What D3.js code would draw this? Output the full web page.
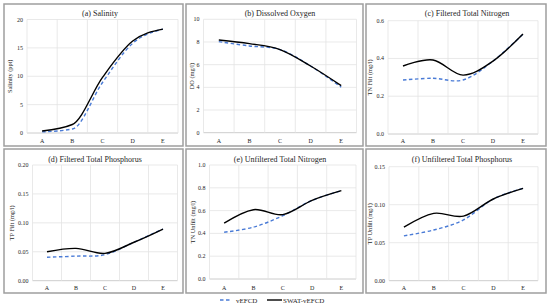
<!DOCTYPE html>
<html><head><meta charset="utf-8">
<script src="https://cdn.jsdelivr.net/npm/d3@7"></script>
<style>
html,body{margin:0;padding:0;background:#fff;}
svg{display:block;}
text{font-family:"Liberation Serif","Times New Roman",serif;fill:#262626;}
</style></head>
<body>
<svg id="chart" width="550" height="307"></svg>
<script>
// ---------- data ----------
const categories = ["A","B","C","D","E"];
const seriesNames = ["vEFCD","SWAT-vEFCD"];
const titles = ["(a) Salinity","(b) Dissolved Oxygen","(c) Filtered Total Nitrogen",
  "(d) Filtered Total Phosphorus","(e) Unfiltered Total Nitrogen","(f) Unfiltered Total Phosphorus"];
const yTitles = ["Salinity (ppt)","DO (mg/l)","TN Filt (mg/l)","TP Filt (mg/l)","TN Unfilt (mg/l)","TP Unfilt (mg/l)"];
const salinityV = [0.2, 0.7, 8.9, 15.8, 18.3];
const salinityS = [0.35, 1.5, 9.8, 16.2, 18.3];
const doV = [8.03, 7.65, 7.33, 5.88, 4.02];
const doS = [8.18, 7.86, 7.33, 5.88, 4.15];
const tnFiltV = [0.286, 0.295, 0.286, 0.386, 0.529];
const tnFiltS = [0.360, 0.392, 0.312, 0.386, 0.529];
const tpFiltV = [0.0405, 0.0425, 0.0450, 0.0665, 0.0893];
const tpFiltS = [0.0501, 0.0559, 0.0473, 0.0665, 0.0893];
const tnUnfV = [0.410, 0.455, 0.555, 0.690, 0.775];
const tnUnfS = [0.490, 0.608, 0.565, 0.690, 0.775];
const tpUnfV = [0.059, 0.0667, 0.0800, 0.1075, 0.1215];
const tpUnfS = [0.0705, 0.0886, 0.0850, 0.1075, 0.1215];
const yTicks = [[0,5,10,15,20],[0,2,4,6,8,10],[0,0.2,0.4,0.6],
  [0,0.05,0.10,0.15,0.20],[0,0.2,0.4,0.6,0.8,1.0],[0,0.05,0.10,0.15]];
const tickFormats = ["d","d",".1f",".2f",".1f",".2f"];
const panelData = [[salinityV,salinityS],[doV,doS],[tnFiltV,tnFiltS],[tpFiltV,tpFiltS],[tnUnfV,tnUnfS],[tpUnfV,tpUnfS]];

// ---------- layout ----------
const boxes = [[4,4,183,146],[186,4,363,146],[366,4,546,146],[4,149,183,293],[186,149,363,293],[366,149,546,293]];
const plots = [[27,178,19.5,133],[203.5,356.5,19.3,132.7],[388,538,20.7,134],
  [32.5,177.5,165,280.7],[209.5,356,165,279],[389,538,166.7,280.7]];
const titlePos = [[100,15.5],[280,16],[467,16],[95,161.5],[280,162],[462,161.5]];
const yTitleX = [10,192,370,12,193,370];
const colors = ["#4a7bd6","#000000"];
const curves = [d3.curveMonotoneX, d3.curveCatmullRom.alpha(0), d3.curveCatmullRom.alpha(0),
  d3.curveCatmullRom.alpha(0), d3.curveCatmullRom.alpha(0), d3.curveCatmullRom.alpha(0)];

const svg = d3.select("#chart");

panelData.forEach((pd,i)=>{
  const b = boxes[i], p = plots[i];
  const g = svg.append("g");
  g.append("rect").attr("x",b[0]).attr("y",b[1]).attr("width",b[2]-b[0]).attr("height",b[3]-b[1])
    .attr("fill","#fff").attr("stroke","#9e9e9e").attr("stroke-width",1.5);
  const x = d3.scaleBand().domain(categories).range([p[0],p[1]]);
  const ticks = yTicks[i];
  const y = d3.scaleLinear().domain([ticks[0],ticks[ticks.length-1]]).range([p[3],p[2]]);
  g.selectAll(".hg").data(ticks).join("line")
    .attr("x1",p[0]).attr("x2",p[1]).attr("y1",d=>y(d)).attr("y2",d=>y(d))
    .attr("stroke",(d,k)=>k===0?"#bfbfbf":"#e3e3e3").attr("stroke-width",0.8);
  const bounds = categories.map(c=>x(c)).concat([x(categories[categories.length-1])+x.bandwidth()]);
  g.selectAll(".vg").data(bounds).join("line")
    .attr("x1",d=>d).attr("x2",d=>d).attr("y1",p[2]).attr("y2",p[3])
    .attr("stroke","#e3e3e3").attr("stroke-width",0.8);
  const fmt = d3.format(tickFormats[i]);
  g.selectAll(".yl").data(ticks).join("text")
    .attr("x",p[0]-4).attr("y",d=>y(d)+2).attr("text-anchor","end")
    .attr("font-size",6).text(d=>fmt(d));
  g.selectAll(".xl").data(categories).join("text")
    .attr("x",d=>x(d)+x.bandwidth()/2).attr("y",b[3]-3).attr("text-anchor","middle")
    .attr("font-size",6).text(d=>d);
  g.append("text").attr("x",titlePos[i][0]).attr("y",titlePos[i][1]).attr("text-anchor","middle")
    .attr("font-size",8).text(titles[i]);
  g.append("text").attr("transform",`translate(${yTitleX[i]+2},${(p[2]+p[3])/2}) rotate(-90)`)
    .attr("text-anchor","middle").attr("font-size",6.3).text(yTitles[i]);
  const line = d3.line().x((d,k)=>x(categories[k])+x.bandwidth()/2).y(d=>y(d))
    .curve(curves[i]);
  pd.forEach((vals,s)=>{
    g.append("path").datum(vals).attr("d",line).attr("fill","none")
      .attr("stroke",colors[s]).attr("stroke-width",s===0?1.4:1.4)
      .attr("stroke-dasharray",s===0?"3.5,2.5":null);
  });
});

// legend
const leg = svg.append("g");
const legItems = [{x1:220,x2:232,tx:236},{x1:267,x2:282,tx:283}];
seriesNames.forEach((n,s)=>{
  const it = legItems[s];
  leg.append("line").attr("x1",it.x1).attr("x2",it.x2).attr("y1",300).attr("y2",300)
    .attr("stroke",colors[s]).attr("stroke-width",1.4).attr("stroke-dasharray",s===0?"3.5,2.5":null);
  leg.append("text").attr("x",it.tx).attr("y",302.5).attr("font-size",7).text(n);
});
</script>
</body></html>
